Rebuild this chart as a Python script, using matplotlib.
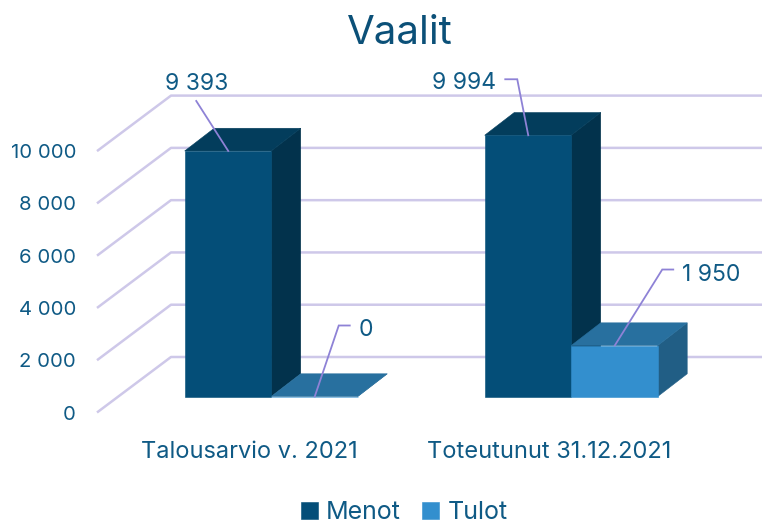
import matplotlib
matplotlib.use('Agg')
import matplotlib.pyplot as plt
from matplotlib.patches import Polygon

plt.rcParams['font.family'] = ['Inter', 'DejaVu Sans']

categories = ['Talousarvio v. 2021', 'Toteutunut 31.12.2021']
menot = [9393, 9994]
tulot = [0, 1950]
value_labels_menot = ['9 393', '9 994']
value_labels_tulot = ['0', '1 950']
yticks = [0, 2000, 4000, 6000, 8000, 10000]
ytick_labels = ['0', '2 000', '4 000', '6 000', '8 000', '10 000']

W, H = 762, 523
PX_X = 300.0       # px per category
PX_Y = 0.02614     # px per value unit
X0 = 271.5         # px of first category centre
Y0 = 396.5         # px of value 0 on the bar front plane

TEXT = '#0f5a85'
GRID = '#cec8e9'
LEADER = '#8e82d6'


def dx(px):
    return px / PX_X


def dy(px):
    return px / PX_Y


def px2x(px):
    return (px - X0) / PX_X


def px2y(py):
    return (Y0 - py) / PX_Y


fig = plt.figure(figsize=(W / 100, H / 100), dpi=100)
ax = fig.add_axes([0, 0, 1, 1])
ax.set_xlim(px2x(0), px2x(W))
ax.set_ylim(px2y(H), px2y(0))
ax.axis('off')

# walls
for v in yticks:
    ax.plot([px2x(97), px2x(171), px2x(W)],
            [v + px2y(412.5), v + px2y(357), v + px2y(357)],
            color=GRID, lw=1.8, solid_capstyle='butt', zorder=1)
    ax.text(px2x(76), v + px2y(414.5), ytick_labels[yticks.index(v)], ha='right', va='center',
            fontsize=14.6, color=TEXT)

width = dx(86.5)
depth_x = dx(29.5)
depth_y = dy(22.7)


def bar3d(x, v, front, top, side, label, z):
    b = ax.bar([x], [v], width=width, align='edge', color=front, edgecolor=front, lw=0.4,
               zorder=z + 2, label=label)
    ax.add_patch(Polygon([(x + width, 0), (x + width + depth_x, depth_y),
                          (x + width + depth_x, v + depth_y), (x + width, v)],
                         facecolor=side, edgecolor=side, lw=0.4, zorder=z))
    ax.add_patch(Polygon([(x, v), (x + width, v),
                          (x + width + depth_x, v + depth_y), (x + depth_x, v + depth_y)],
                         facecolor=top, edgecolor=top, lw=0.4, zorder=z + 1))
    return b


handles = []
for i in range(len(categories)):
    m = bar3d(i - width - dx(0.3), menot[i], '#044e78', '#033d5c', '#02324c', 'Menot', 2)
    t = bar3d(i - dx(0.3), tulot[i], '#338fce', '#28709f', '#215e85', 'Tulot', 6)
    ax.text(i - dx(22.5), px2y(452), categories[i], ha='center', va='center', fontsize=17, color=TEXT)
    if i == 0:
        handles = [m, t]

# leaders, px offsets from the bar's top front centre
leaders = [
    (0 - width / 2, menot[0], [(-32, -50)], value_labels_menot[0], (-32, -67), 'center'),
    (1 - width / 2, menot[1], [(-11, -56), (-23, -56)], value_labels_menot[1], (-32, -52), 'right'),
    (0 + width / 2, tulot[0], [(24, -71), (35, -71)], value_labels_tulot[0], (44, -67), 'left'),
    (1 + width / 2, tulot[1], [(47.5, -76), (58.5, -76)], value_labels_tulot[1], (67.5, -71), 'left'),
]
for x, v, pts, lab, off, ha in leaders:
    xs = [x] + [x + dx(p[0]) for p in pts]
    ys = [v] + [v - dy(p[1]) for p in pts]
    ax.plot(xs, ys, color=LEADER, lw=1.3, zorder=20, solid_joinstyle='miter')
    ax.text(x + dx(off[0]), v - dy(off[1]), lab, ha=ha, va='center', fontsize=16.5, color=TEXT, zorder=21)

fig.suptitle('Vaalit', x=400 / W, y=1 - 33 / H, va='center', fontsize=29, color='#0b5078')

ax.legend(handles, ['Menot', 'Tulot'], loc='lower center', bbox_to_anchor=(404 / W, -0.002), ncol=2,
          frameon=False, fontsize=18, labelcolor=TEXT, handlelength=0.68, handleheight=0.68,
          handletextpad=0.32, columnspacing=0.88, borderpad=0, borderaxespad=0)

fig.savefig('out.png', dpi=100)
